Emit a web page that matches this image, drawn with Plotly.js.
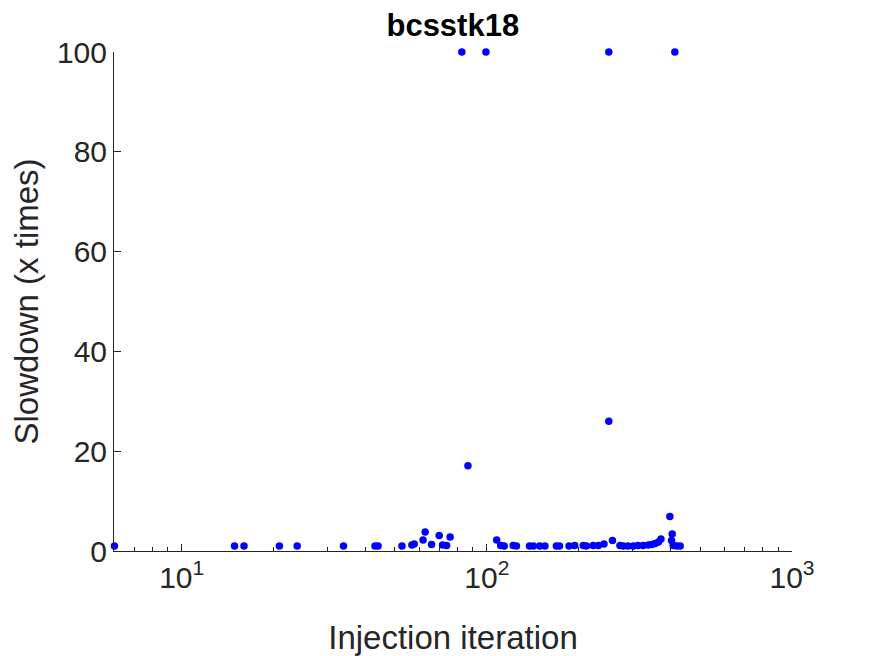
<!DOCTYPE html>
<html>
<head>
<meta charset="utf-8">
<script src="https://cdn.plot.ly/plotly-3.0.1.min.js"></script>
<style>
  html, body { margin: 0; padding: 0; background: #fff; }
  #chart { width: 875px; height: 656px; }
</style>
</head>
<body>
<div id="chart"></div>
<script>
// Injection iteration vs slowdown
var iterations = [
  6.02, 14.9, 16.0, 20.9, 23.9, 33.9, 43.0, 44.0, 52.7, 56.8,
  57.8, 61.8, 62.8, 65.9, 69.8, 71.6, 73.8, 75.8, 82.8, 86.7,
  99.3, 107.7, 111, 114, 122, 125, 138, 142, 149, 155,
  169, 173, 186, 194, 207, 212, 223, 232, 242, 251,
  251, 258, 273, 280, 290, 302, 313, 325, 338, 347,
  356, 365, 372, 398, 403, 405, 408, 413, 419, 430
];
var slowdown = [
  1.0, 1.0, 1.0, 1.0, 1.0, 1.0, 1.0, 1.0, 1.0, 1.2,
  1.4, 2.2, 3.8, 1.3, 3.1, 1.2, 1.1, 2.8, 100, 17.1,
  100, 2.2, 1.1, 1.0, 1.1, 1.0, 1.0, 1.0, 1.0, 1.0,
  1.0, 1.0, 1.0, 1.1, 1.1, 1.0, 1.1, 1.1, 1.4, 26.0,
  100, 2.1, 1.1, 1.0, 1.0, 1.0, 1.1, 1.1, 1.2, 1.3,
  1.5, 1.8, 2.4, 6.9, 2.1, 3.4, 1.1, 100, 1.0, 1.0
];
var x_tick_vals = [10, 100, 1000];
var x_tick_text = ['10<sup>1</sup>', '10<sup>2</sup>', '10<sup>3</sup>'];
var y_tick_vals = [0, 20, 40, 60, 80, 100];

// minor ticks at 2..9 of each decade inside the visible range
var minor_vals = [];
[1, 10, 100].forEach((decade) => {
  for (var k = 2; k <= 9; k++) {
    if (decade * k >= 6) minor_vals.push(decade * k);
  }
});

const axis_color = '#262626';
const font_family = '"Liberation Sans", Arial, Helvetica, sans-serif';

var chart_data = [
  {
    x: iterations,
    y: slowdown,
    mode: 'markers',
    type: 'scatter',
    cliponaxis: false,
    marker: {
      color: '#0000ff',
      size: 7.5,
    },
  },
];

var chart_layout = {
  width: 875,
  height: 656,
  paper_bgcolor: '#ffffff',
  plot_bgcolor: '#ffffff',
  showlegend: false,
  font: { family: font_family, color: axis_color },
  margin: { l: 114, r: 83, t: 52, b: 105 },
  title: {
    text: '<b>bcsstk18</b>',
    font: { family: font_family, size: 31, color: '#000000' },
    x: 0.5175,
    xanchor: 'center',
    y: 0.945,
    yanchor: 'bottom',
  },
  xaxis: {
    type: 'log',
    range: [Math.log10(6), 3],
    tickvals: x_tick_vals,
    ticktext: x_tick_text,
    ticks: 'inside',
    ticklen: 7,
    tickcolor: axis_color,
    tickfont: { size: 30, color: axis_color },
    showline: true,
    linecolor: axis_color,
    linewidth: 1,
    showgrid: false,
    zeroline: false,
    minor: {
      tickvals: minor_vals,
      ticks: 'inside',
      ticklen: 4,
      tickcolor: axis_color,
      showgrid: false,
    },
    title: {
      text: 'Injection iteration',
      font: { size: 33, color: axis_color },
      standoff: 32,
    },
  },
  yaxis: {
    range: [0, 100],
    tickvals: y_tick_vals,
    ticks: 'inside',
    ticklen: 7,
    tickcolor: axis_color,
    tickfont: { size: 30, color: axis_color },
    showline: true,
    linecolor: axis_color,
    linewidth: 1,
    showgrid: false,
    zeroline: false,
    title: {
      text: 'Slowdown (x times)',
      font: { size: 33, color: axis_color },
    },
  },
};

Plotly.newPlot('chart', chart_data, chart_layout, { displayModeBar: false });
</script>
</body>
</html>
